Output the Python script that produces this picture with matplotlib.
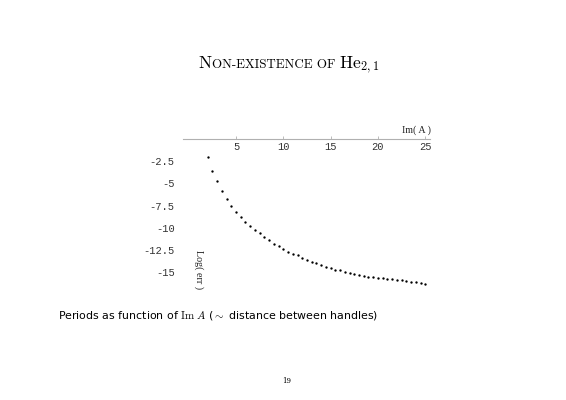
import matplotlib
matplotlib.use("Agg")
import matplotlib.pyplot as plt

# ---- data ----
im_a = [2.0, 2.5, 3.0, 3.5, 4.0, 4.5, 5.0, 5.5, 6.0, 6.5, 7.0, 7.5, 8.0, 8.5,
        9.0, 9.5, 10.0, 10.5, 11.0, 11.5, 12.0, 12.5, 13.0, 13.5, 14.0, 14.5,
        15.0, 15.5, 16.0, 16.5, 17.0, 17.5, 18.0, 18.5, 19.0, 19.5, 20.0, 20.5,
        21.0, 21.5, 22.0, 22.5, 23.0, 23.5, 24.0, 24.5, 25.0]
log_err = [-2.0, -3.6, -4.7, -5.8, -6.7, -7.5, -8.2, -8.8, -9.3, -9.8, -10.2,
           -10.6, -11.0, -11.4, -11.8, -12.1, -12.4, -12.7, -12.9, -13.1, -13.4,
           -13.6, -13.8, -14.0, -14.2, -14.4, -14.5, -14.7, -14.8, -15.0, -15.1,
           -15.2, -15.3, -15.4, -15.5, -15.55, -15.6, -15.7, -15.75, -15.8,
           -15.85, -15.9, -16.0, -16.05, -16.1, -16.2, -16.3]
x_ticks = [5, 10, 15, 20, 25]
x_tick_labels = ["5", "10", "15", "20", "25"]
y_ticks = [-2.5, -5, -7.5, -10, -12.5, -15]
y_tick_labels = ["-2.5", "-5", "-7.5", "-10", "-12.5", "-15"]

plt.rcParams['mathtext.fontset'] = 'cm'
plt.rcParams['axes.unicode_minus'] = False

W, H = 566, 400
fig = plt.figure(figsize=(W / 100, H / 100), dpi=100)
fig.patch.set_facecolor('white')

def fx(px):
    return px / W

def fy(py):
    return 1 - py / H

ax = fig.add_axes([fx(183), fy(290), fx(430) - fx(183), fy(139) - fy(290)])
ax.set_xlim(-0.6, 25.5)
ax.set_ylim(-17, 0)
ax.patch.set_alpha(0)

for s in ['left', 'right', 'top']:
    ax.spines[s].set_visible(False)
ax.spines['bottom'].set_position(('data', 0))
ax.spines['bottom'].set_color('#b0b0b0')
ax.spines['bottom'].set_linewidth(0.8)

ax.set_xticks(x_ticks)
ax.set_xticklabels(x_tick_labels, family='Liberation Mono', fontsize=7.5,
                   color='#333333')
ax.tick_params(axis='x', direction='in', length=2.5, width=0.6,
               color='#b0b0b0', pad=2)
ax.set_yticks(y_ticks)
ax.set_yticklabels(y_tick_labels, family='Liberation Mono', fontsize=7.5,
                   color='#333333')
ax.tick_params(axis='y', length=0, pad=6)

ax.plot(im_a, log_err, 'o', color='black', markersize=1.7, markeredgewidth=0,
        clip_on=False)

# axis labels
fig.text(fx(431), fy(130), "Im( A )", family='Liberation Serif', fontsize=7.2,
         ha='right', va='center', color='#222222')
fig.text(fx(199), fy(270), "Log( err )", family='Liberation Serif', fontsize=7.2,
         ha='center', va='center', rotation=270, color='#222222')

# title with small caps
pieces = [("N", 12.5, False), ("ON-EXISTENCE OF ", 9.3, False),
          (r"$\mathrm{He}_{2,1}$", 12.5, True)]
texts = []
for txt, sz, math in pieces:
    if math:
        t = fig.text(0, fy(68), txt, fontsize=sz, va='baseline')
    else:
        t = fig.text(0, fy(68), txt, fontsize=sz, va='baseline', family='cmr10')
    texts.append(t)
fig.canvas.draw()
r = fig.canvas.get_renderer()
widths = [t.get_window_extent(r).width for t in texts]
total = sum(widths)
x0 = 289 - total / 2
for t, w in zip(texts, widths):
    t.set_x(fx(x0))
    x0 += w

# caption
fig.text(fx(58), fy(318),
         r"Periods as function of $\mathrm{Im}\ A$ ($\sim$ distance between handles)",
         family='DejaVu Sans', fontsize=7.9, ha='left', va='baseline')

# page number
fig.text(fx(287), fy(381), "19", family='DejaVu Serif', fontsize=5, ha='center',
         va='center')

fig.savefig("out.png", dpi=100)
